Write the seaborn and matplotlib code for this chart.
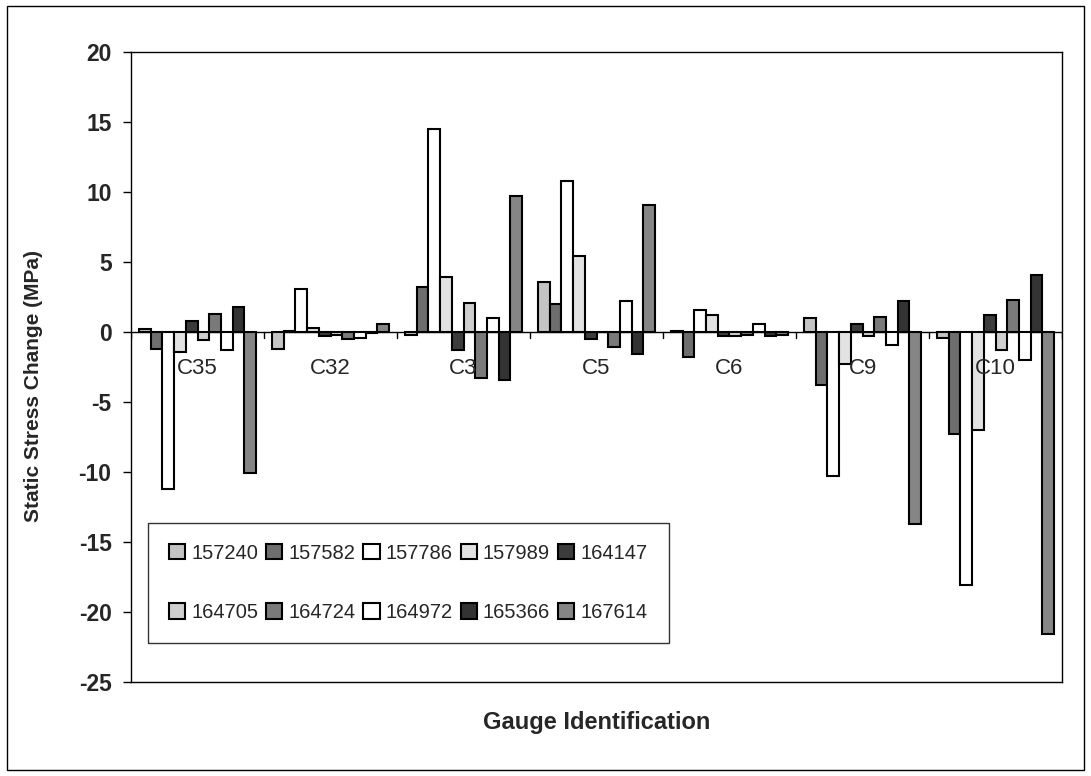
import matplotlib
matplotlib.use("Agg")
import matplotlib.pyplot as plt
import seaborn as sns
import pandas as pd
import numpy as np
from matplotlib.patches import Rectangle

gauges = ["C35", "C32", "C3", "C5", "C6", "C9", "C10"]
events = ["157240", "157582", "157786", "157989", "164147",
          "164705", "164724", "164972", "165366", "167614"]

v_C35 = [0.2, -1.2, -11.2, -1.4, 0.8, -0.6, 1.3, -1.3, 1.8, -10.1]
v_C32 = [-1.2, 0.1, 3.1, 0.3, -0.3, -0.2, -0.5, -0.4, -0.1, 0.6]
v_C3 = [-0.2, 3.2, 14.5, 3.9, -1.3, 2.1, -3.3, 1.0, -3.4, 9.7]
v_C5 = [3.6, 2.0, 10.8, 5.4, -0.5, 0.0, -1.1, 2.2, -1.6, 9.1]
v_C6 = [0.1, -1.8, 1.6, 1.2, -0.3, -0.3, -0.2, 0.6, -0.3, -0.2]
v_C9 = [1.0, -3.8, -10.3, -2.3, 0.6, -0.3, 1.1, -0.9, 2.2, -13.7]
v_C10 = [-0.4, -7.3, -18.1, -7.0, 1.2, -1.3, 2.3, -2.0, 4.1, -21.6]

yticks = [-25, -20, -15, -10, -5, 0, 5, 10, 15, 20]

values = [v_C35, v_C32, v_C3, v_C5, v_C6, v_C9, v_C10]
rows = []
for g, vals in zip(gauges, values):
    for e, v in zip(events, vals):
        rows.append({"gauge": g, "event": e, "value": v})
df = pd.DataFrame(rows)

colors = ["#c4c4c4", "#6e6e6e", "#ffffff", "#e2e2e2", "#3c3c3c",
          "#cfcfcf", "#7a7a7a", "#ffffff", "#333333", "#858585"]

sns.set_theme(style="white")
plt.rcParams["font.family"] = ["Liberation Sans", "DejaVu Sans"]

fig = plt.figure(figsize=(10.91, 7.76), dpi=100)
ax = fig.add_axes([131 / 1091, 1 - 682 / 776, (1062 - 131) / 1091, (682 - 52) / 776])

sns.barplot(data=df, x="gauge", y="value", hue="event", order=gauges,
            hue_order=events, palette=colors, edgecolor="black",
            linewidth=1.5, width=0.88, saturation=1, ax=ax, legend=True)

ax.set_ylim(-25, 20)
ax.set_xlim(-0.5, len(gauges) - 0.5)
ax.set_yticks(yticks)
ax.set_yticklabels([str(t) for t in yticks], fontsize=16.5, fontweight="bold")
ax.tick_params(axis="y", direction="out", length=6, width=1, color="black", pad=8, left=True)
ax.set_xticks([])
ax.set_xlabel("")
ax.set_ylabel("Static Stress Change (MPa)", fontsize=15, fontweight="bold")
ax.yaxis.set_label_coords(-0.095, 0.47)
for s in ax.spines.values():
    s.set_color("black")
    s.set_linewidth(1)

# zero axis line with category boundary ticks
ax.axhline(0, color="black", lw=1, zorder=0.5)
for k in range(len(gauges) + 1):
    ax.plot([k - 0.5, k - 0.5], [0, -0.45], color="black", lw=1, zorder=0.5)
for k, g in enumerate(gauges):
    ax.text(k, -2.6, g, ha="center", va="center", fontsize=16, zorder=10)

fig.text((131 + 1062) / 2 / 1091, 1 - 723 / 776, "Gauge Identification",
         ha="center", va="center", fontsize=17, fontweight="bold")

handles, labels = ax.get_legend_handles_labels()
order = [0, 5, 1, 6, 2, 7, 3, 8, 4, 9]
leg = ax.legend([handles[i] for i in order], [labels[i] for i in order],
                ncol=5, loc="upper left",
                bbox_to_anchor=(0.018, 0.253), frameon=True, fancybox=False,
                edgecolor="black", fontsize=14.5, handlelength=0.8,
                handleheight=0.8, handletextpad=0.3, columnspacing=0.4,
                labelspacing=2.0, borderpad=1.05, borderaxespad=0)
leg.get_frame().set_linewidth(1)

fig.add_artist(Rectangle((7 / 1091, 6 / 776), 1 - 14 / 1091, 1 - 12 / 776,
                         transform=fig.transFigure, fill=False,
                         edgecolor="black", lw=1))

fig.savefig("out.png", dpi=100)
